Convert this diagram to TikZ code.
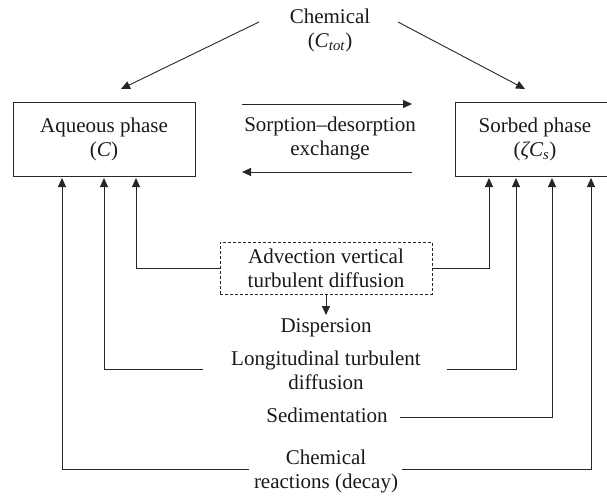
\documentclass[tikz,border=0pt]{standalone}
\usepackage{fontspec}
\setmainfont{Liberation Serif}
\usetikzlibrary{arrows.meta}
\begin{document}
\begin{tikzpicture}[x=1pt,y=-1pt,
  every node/.style={font=\fontsize{21}{24}\selectfont, align=center, inner sep=0pt, text=black!90},
  line/.style={line width=0.9pt, draw=black!85},
  arr/.style={line, -{Triangle[length=9pt,width=8pt]}},
  box/.style={draw=black!85, line width=0.9pt, minimum height=74pt},
  dashbox/.style={draw=black!85, line width=0.9pt, dash pattern=on 3pt off 2pt, minimum width=212pt, minimum height=52pt}]
\useasboundingbox (0,0) rectangle (607,497);
\clip (0,0) rectangle (607,497);

% top
\node (chem) at (330,30) {Chemical\\(\textit{C}\textsubscript{\textit{tot}})};
\node[box, minimum width=182pt] (aq) at (104,139) {Aqueous phase\\(\textit{C})};
\node[box, minimum width=160pt] (sorb) at (535,139) {Sorbed phase\\(\textit{ζC}\textsubscript{\textit{s}})};
\node (sorp) at (330,138) {Sorption–desorption\\exchange};

\coordinate (cl) at (259,22);
\coordinate (cr) at (398,22);
\coordinate (tl) at (121,89);
\coordinate (tr) at (525,89);
\draw[arr] (cl) -- (tl);
\draw[arr] (cr) -- (tr);

\coordinate (s1a) at (242,104);
\coordinate (s1b) at (412,104);
\coordinate (s2a) at (412,172);
\coordinate (s2b) at (242,172);
\draw[arr] (s1a) -- (s1b);
\draw[arr] (s2a) -- (s2b);

% middle
\node[dashbox] (adv) at (326,268) {Advection vertical\\turbulent diffusion};
\node (disp) at (326,328) {Dispersion};
\node (long) at (326,370) {Longitudinal turbulent\\diffusion};
\node (sed) at (327,415) {Sedimentation};
\node (react) at (326,471) {Chemical\\reactions (decay)};

\coordinate (dtip) at (326,315);
\draw[arr] (adv.south) -- (dtip);

% left connectors
\coordinate (la) at (136,178);
\coordinate (lb) at (104,178);
\coordinate (lc) at (62,178);
\coordinate (longL) at (203,369);
\coordinate (reactL) at (249,469);
\draw[arr] (adv.west) -| (la);
\draw[arr] (longL) -| (lb);
\draw[arr] (reactL) -| (lc);

% right connectors
\coordinate (ra) at (489,178);
\coordinate (rb) at (516,178);
\coordinate (rc) at (552,178);
\coordinate (rd) at (591,178);
\coordinate (longR) at (447,369);
\coordinate (sedR) at (400,417);
\coordinate (reactR) at (402,469);
\draw[arr] (adv.east) -| (ra);
\draw[arr] (longR) -| (rb);
\draw[arr] (sedR) -| (rc);
\draw[arr] (reactR) -| (rd);
\end{tikzpicture}
\end{document}
